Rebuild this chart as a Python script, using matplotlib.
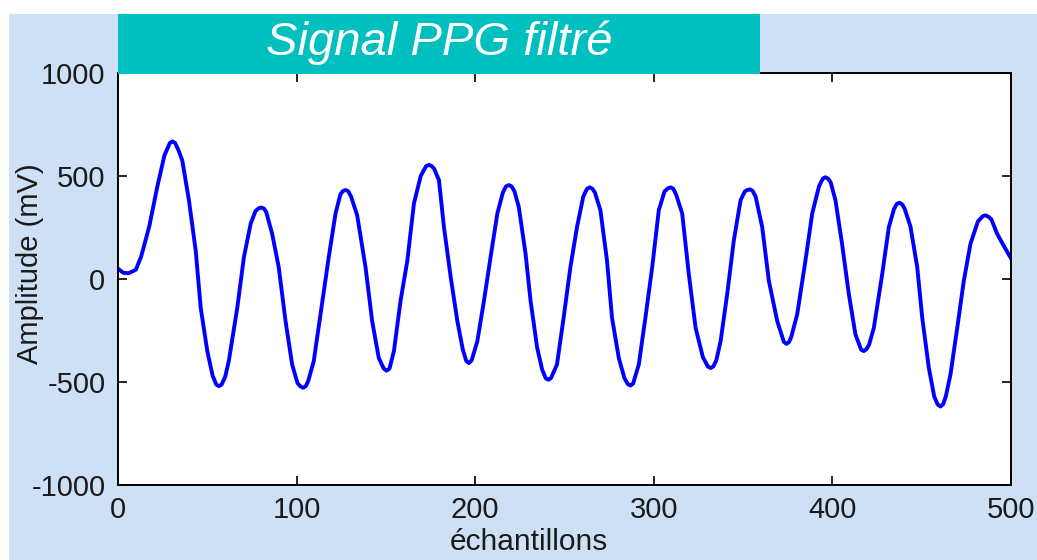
import matplotlib
matplotlib.use("Agg")
import matplotlib.pyplot as plt
from matplotlib.patches import Rectangle

# samples (x = sample index, y = amplitude in mV)
samples = [0, 3, 6, 10, 13, 17.5, 22, 26, 29, 30.5, 32, 34, 36, 39.7, 43.5, 46.3,
           50, 53, 55, 56.5, 58, 60, 62, 66.8, 70.5, 74.3, 77, 78.7, 80.2, 81.7,
           83, 86.3, 90, 93.8, 97.5, 100.5, 102.2, 103.7, 105.2, 106.5, 109.6,
           113.4, 118, 121.8, 124.5, 125.9, 127.4, 128.9, 130.5, 133.9, 138.6,
           142.3, 146, 148.8, 150.4, 152, 154.5, 158.2, 162, 165.7, 169.5, 172.5,
           174.1, 175.7, 177, 179.7, 182.5, 186.3, 190, 193, 195, 196.5, 198,
           201.2, 204.9, 208.6, 212.4, 215.5, 217.3, 218.8, 220.3, 222, 224.4,
           228.2, 231, 234.7, 237.5, 239.5, 241, 242.5, 245.8, 249.5, 253.3, 257,
           260.5, 262.6, 264.1, 265.6, 267, 270.1, 273.8, 276.6, 280.4, 283.5,
           285.4, 286.9, 288.4, 291.6, 295.3, 299.1, 302.8, 306, 307.9, 309.4,
           310.9, 312.5, 315.9, 319.6, 323.4, 327.5, 330.3, 331.8, 333.3, 335,
           337.4, 341.1, 344.8, 348.6, 351, 352.3, 353.8, 355.3, 357, 360.7, 364.4,
           369.1, 372.8, 374.3, 375.8, 377, 380.3, 384.9, 388.7, 392.5, 394.6,
           396.1, 397.6, 399, 401.7, 405.4, 409.2, 412.9, 416.1, 417.6, 419.1,
           420.5, 423.2, 427.9, 431.6, 434.5, 436.1, 437.6, 439.1, 440.5, 443.7,
           447.5, 450.3, 454, 457, 459, 460.5, 462, 463.5, 466.1, 469.9, 473.6,
           477.3, 481.5, 484.2, 485.7, 487.2, 489, 492.2, 496, 500]
amplitude = [50, 30, 28, 45, 110, 255, 448, 600, 660, 668, 660, 622, 575, 383, 138,
             -139, -350, -470, -512, -520, -513, -475, -400, -139, 106, 269, 330,
             343, 347, 342, 325, 220, 57, -204, -415, -505, -522, -528, -520, -495,
             -399, -171, 106, 318, 410, 427, 432, 426, 400, 310, 57, -204, -383,
             -435, -445, -435, -350, -106, 89, 367, 500, 548, 554, 548, 535, 480,
             252, 8, -204, -340, -398, -408, -395, -302, -106, 106, 318, 420, 450,
             456, 450, 425, 350, 122, -106, -334, -440, -482, -489, -480, -415,
             -188, 57, 252, 400, 438, 445, 438, 420, 334, 89, -188, -383, -480,
             -510, -517, -508, -415, -188, 57, 334, 425, 440, 445, 438, 410, 318,
             24, -237, -380, -425, -432, -425, -395, -302, -73, 187, 383, 425, 432,
             435, 428, 400, 252, -8, -204, -305, -315, -305, -280, -171, 89, 318,
             450, 487, 494, 487, 470, 383, 171, -73, -269, -343, -350, -340, -320,
             -237, 24, 252, 340, 365, 370, 362, 340, 255, 57, -188, -432, -570,
             -610, -619, -608, -570, -464, -237, -8, 171, 280, 305, 309, 303, 290,
             220, 160, 100]
assert len(samples) == len(amplitude)

xticks = [0, 100, 200, 300, 400, 500]
yticks = [-1000, -500, 0, 500, 1000]

font = ['Liberation Sans', 'DejaVu Sans']
plt.rcParams['font.family'] = font
plt.rcParams['axes.unicode_minus'] = False

W, H = 1037, 560
fig = plt.figure(figsize=(W / 100, H / 100), dpi=100)
fig.patch.set_facecolor('white')

# light blue panel behind everything
fig.patches.append(Rectangle((9 / W, 0), 1 - 9 / W, 1 - 14 / H, transform=fig.transFigure,
                             facecolor='#cde0f6', edgecolor='none', zorder=-10))

ax = fig.add_axes([118 / W, 1 - 485 / H, (1011 - 118) / W, (485 - 73) / H])
ax.set_facecolor('white')
ax.plot(samples, amplitude, color='#0000ff', lw=2.8, solid_joinstyle='round')

ax.set_xlim(0, 500)
ax.set_ylim(-1000, 1000)
ax.set_xticks(xticks)
ax.set_yticks(yticks)
ax.tick_params(direction='in', length=6.5, width=1.2, top=True, right=True,
               labelsize=21, labelcolor='#1a1a1a', pad=9)
ax.tick_params(axis='x', pad=8)
for sp in ax.spines.values():
    sp.set_linewidth(1.4)

ax.set_xlabel('échantillons', fontsize=21.5, color='#1a1a1a')
ax.xaxis.set_label_coords((529 - 118) / 893, -0.104)
ax.set_ylabel('Amplitude (mV)', fontsize=21, color='#1a1a1a')
ax.yaxis.set_label_coords((44 - 118) / 893, (485 - 263.5) / 412)

# teal title box sitting on top of the axes frame
fig.patches.append(Rectangle((118 / W, 1 - 74 / H), (760 - 118) / W, 60 / H,
                             transform=fig.transFigure, facecolor='#00bfbf',
                             edgecolor='none', zorder=5))
fig.text((118 + 760) / 2 / W, 1 - 43 / H, 'Signal PPG filtré', color='white',
         fontsize=34, style='italic', ha='center', va='center', zorder=6)

fig.savefig('out.png', dpi=100)
